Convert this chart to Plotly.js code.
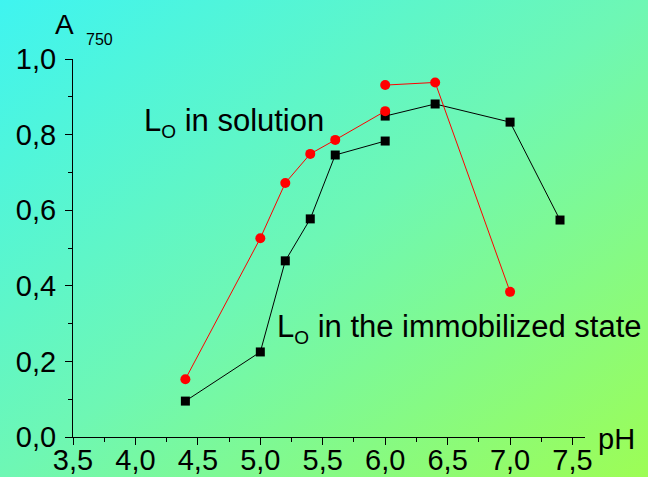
<!DOCTYPE html>
<html>
<head>
<meta charset="utf-8">
<script src="https://cdn.plot.ly/plotly-3.0.1.min.js"></script>
<style>
html,body{margin:0;padding:0;}
body{width:648px;height:477px;background:linear-gradient(to bottom right,#3ff4f0 0%,#6ef7b4 50%,#9dfd55 100%);}
#chart{width:648px;height:477px;}
</style>
</head>
<body>
<div id="chart"></div>
<script>
// L_O in solution (red circles); null separates the two drawn segments
var solutionPH = [4.4, 5.0, 5.2, 5.4, 5.6, 6.0, null, 6.0, 6.4, 7.0];
var solutionA  = [0.153, 0.526, 0.672, 0.749, 0.786, 0.862, null, 0.931, 0.938, 0.384];
// L_O in the immobilized state (black squares)
var immobPH = [4.4, 5.0, 5.2, 5.4, 5.6, 6.0, null, 6.0, 6.4, 7.0, 7.4];
var immobA  = [0.095, 0.225, 0.466, 0.577, 0.746, 0.783, null, 0.849, 0.881, 0.833, 0.574];

var xTicks = [3.5, 4.0, 4.5, 5.0, 5.5, 6.0, 6.5, 7.0, 7.5];
var yTicks = [0.0, 0.2, 0.4, 0.6, 0.8, 1.0];

var FONT = 'Liberation Sans, Arial, sans-serif';
var SUB = '<sub><span style="font-size:19px">O</span></sub>';

var traces = [
  {x: immobPH, y: immobA, mode: 'lines+markers', connectgaps: false, cliponaxis: false,
   line: {color: '#000000', width: 1},
   marker: {symbol: 'square', size: 9, color: '#000000'}},
  {x: solutionPH, y: solutionA, mode: 'lines+markers', connectgaps: false, cliponaxis: false,
   line: {color: '#ff0000', width: 1},
   marker: {symbol: 'circle', size: 10, color: '#ff0000'}}
];

var layout = {
  width: 648, height: 477,
  paper_bgcolor: 'rgba(0,0,0,0)', plot_bgcolor: 'rgba(0,0,0,0)',
  margin: {l: 73, r: 63, t: 59, b: 40},
  showlegend: false,
  separators: ',.',
  font: {family: FONT, color: '#000000', size: 29},
  xaxis: {
    range: [3.5, 7.6], tickvals: xTicks, tickformat: '.1f',
    showgrid: false, zeroline: false, showline: true, linecolor: '#000', linewidth: 1,
    ticks: 'outside', ticklen: 7, tickcolor: '#000', tickwidth: 1, ticklabelstandoff: -10,
    tickfont: {family: FONT, size: 29, color: '#000'},
    minor: {dtick: 0.25, tick0: 3.5, ticks: 'outside', ticklen: 4, tickcolor: '#000', showgrid: false}
  },
  yaxis: {
    range: [0, 1.0], tickvals: yTicks, tickformat: '.1f',
    showgrid: false, zeroline: false, showline: true, linecolor: '#000', linewidth: 1,
    ticks: 'outside', ticklen: 7, tickcolor: '#000', tickwidth: 1, ticklabelstandoff: 3,
    tickfont: {family: FONT, size: 29, color: '#000'},
    minor: {dtick: 0.1, tick0: 0, ticks: 'outside', ticklen: 4, tickcolor: '#000', showgrid: false}
  },
  annotations: [
    {xref: 'paper', yref: 'paper', x: -0.04, y: 1.045, xanchor: 'left', yanchor: 'bottom',
     text: 'A', showarrow: false, font: {family: FONT, size: 28}},
    {xref: 'paper', yref: 'paper', x: 0.022, y: 1.023, xanchor: 'left', yanchor: 'bottom',
     text: '750', showarrow: false, font: {family: FONT, size: 16}},
    {xref: 'paper', yref: 'paper', x: 1.022, y: -0.005, xanchor: 'left', yanchor: 'middle',
     text: 'pH', showarrow: false, font: {family: FONT, size: 29}},
    {xref: 'x', yref: 'y', x: 4.055, y: 0.833, xanchor: 'left', yanchor: 'middle',
     text: 'L' + SUB + ' in solution', showarrow: false, font: {family: FONT, size: 31}},
    {xref: 'x', yref: 'y', x: 5.12, y: 0.286, xanchor: 'left', yanchor: 'middle',
     text: 'L' + SUB + ' in the immobilized state', showarrow: false, font: {family: FONT, size: 31}}
  ]
};

Plotly.newPlot('chart', traces, layout, {displayModeBar: false, staticPlot: true});
</script>
</body>
</html>
